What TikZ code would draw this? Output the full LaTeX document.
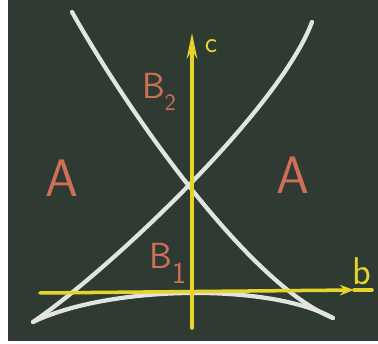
\documentclass[tikz,border=0pt]{standalone}
\usetikzlibrary{arrows.meta}
\definecolor{papan}{RGB}{47,59,50}
\definecolor{kapur}{RGB}{226,228,226}
\definecolor{kuning}{RGB}{228,212,44}
\definecolor{jingga}{RGB}{206,112,86}
\begin{document}
\begin{tikzpicture}[x=0.03cm, y=-0.03cm,
    garis/.style={kapur, line width=3.6pt, line cap=round},
    sumbu/.style={kuning, line width=3pt, line cap=round},
    huruf/.style={jingga, font=\sffamily, inner sep=0pt}]
    \useasboundingbox (0,0) rectangle (378,344);

    % Papan tulis
    \fill[white] (0,0) rectangle (378,344);
    \fill[papan] (8,0) rectangle (378,341);

    % Titik-titik penting
    \coordinate (atasKiri) at (72,12);
    \coordinate (atasKanan) at (312,22);
    \coordinate (bawahKiri) at (33,322);
    \coordinate (bawahKanan) at (333,318);

    % Kurva kapur putih
    \draw[garis] (atasKiri) .. controls (130,115) and (250,285) .. (bawahKanan);
    \draw[garis] (atasKanan) .. controls (280,108) and (112,268) .. (bawahKiri);
    \draw[garis] (bawahKiri) .. controls (110,285) and (270,283) .. (bawahKanan);

    % Sumbu b dan c
    \coordinate (asal) at (192,328);
    \coordinate (ujungC) at (192,33);
    \coordinate (kiriB) at (40,293);
    \coordinate (panahB) at (354,290);
    \coordinate (ujungB) at (372,290);
    \draw[sumbu, -{Stealth[length=22pt, width=9pt]}] (asal) -- (ujungC);
    \draw[sumbu, -{Stealth[length=12pt, width=9pt]}] (kiriB) -- (panahB);
    \draw[sumbu] (panahB) -- (ujungB);
    \node[kuning, font=\sffamily\fontsize{25}{25}\selectfont, inner sep=0pt] (labelC) at (211,46) {c};
    \node[kuning, font=\sffamily\fontsize{33}{33}\selectfont, inner sep=0pt] (labelB) at (362,271) {b};

    % Label daerah
    \node[huruf, font=\sffamily\fontsize{45}{45}\selectfont] (daerahKiri) at (62,178) {A};
    \node[huruf, font=\sffamily\fontsize{45}{45}\selectfont] (daerahKanan) at (293,175) {A};
    \node[huruf, font=\sffamily\fontsize{31}{31}\selectfont, anchor=base west] (daerahAtas) at (142,99)
        {B\raisebox{-10pt}{\fontsize{20}{20}\selectfont 2}};
    \node[huruf, font=\sffamily\fontsize{31}{31}\selectfont, anchor=base west] (daerahBawah) at (149,269)
        {B\raisebox{-12pt}{\fontsize{26}{26}\selectfont 1}};
\end{tikzpicture}
\end{document}
